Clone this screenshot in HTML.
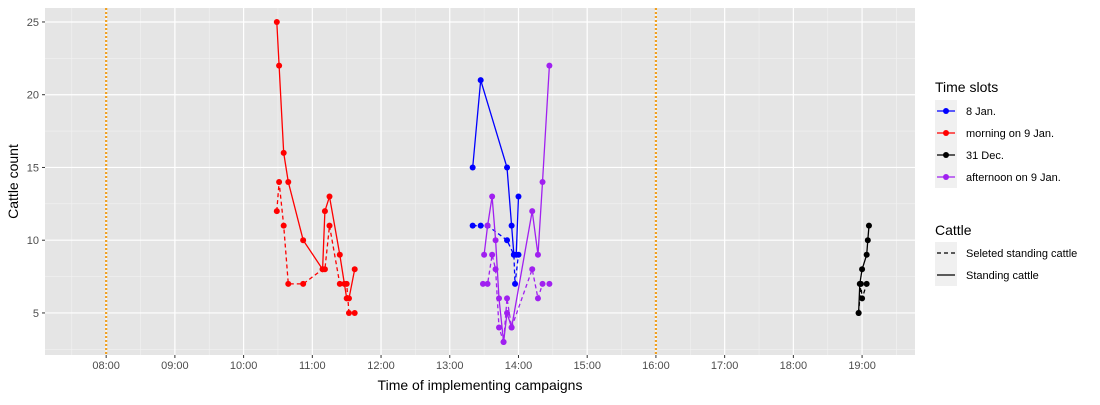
<!DOCTYPE html>
<html><head><meta charset="utf-8"><style>
body{margin:0;background:#fff;font-family:"Liberation Sans",Arial,sans-serif}
svg text{font-family:"Liberation Sans",Arial,sans-serif}
</style></head><body>
<svg id="chart" width="1100" height="400" xmlns="http://www.w3.org/2000/svg"></svg>
<script>
const xTicks=["08:00","09:00","10:00","11:00","12:00","13:00","14:00","15:00","16:00","17:00","18:00","19:00"];
const yTicks=[5,10,15,20,25];
const refLines=["08:00","16:00"];
const redSolidT=["10:29","10:31","10:35","10:39","10:52","11:09","11:11","11:15","11:24","11:28","11:30","11:32","11:37"];
const redSolidV=[25,22,16,14,10,8,12,13,9,7,6,6,8];
const redDashT=["10:29","10:31","10:35","10:39","10:52","11:09","11:11","11:15","11:24","11:30","11:32","11:37"];
const redDashV=[12,14,11,7,7,8,8,11,7,7,5,5];
const blueSolidT=["13:20","13:27","13:50","13:54","13:56","13:58","14:00"];
const blueSolidV=[15,21,15,11,9,9,13];
const blueDashT=["13:20","13:27","13:33","13:50","13:56","13:57","14:00"];
const blueDashV=[11,11,11,10,9,7,9];
const purpSolidT=["13:30","13:33","13:37","13:40","13:43","13:47","13:50","13:54","14:12","14:17","14:21","14:27"];
const purpSolidV=[9,11,13,10,6,3,5,4,12,9,14,22];
const purpDashT=["13:29","13:33","13:37","13:40","13:43","13:47","13:50","13:54","14:12","14:17","14:21","14:27"];
const purpDashV=[7,7,9,8,4,3,6,4,8,6,7,7];
const blackSolidT=["18:57","18:58","19:00","19:04","19:05","19:06"];
const blackSolidV=[5,7,8,9,10,11];
const blackDashT=["18:57","18:59","19:00","19:04"];
const blackDashV=[5,7,6,7];

const NS="http://www.w3.org/2000/svg";
const svg=document.getElementById('chart');
const L=45,R=915,T=8,B=355;
const x0=7.11,x1=19.77,y0=2.11,y1=25.96;
function hrs(s){const p=s.split(':');return +p[0]+(+p[1])/60;}
function X(h){return L+(h-x0)/(x1-x0)*(R-L);}
function Y(v){return B-(v-y0)/(y1-y0)*(B-T);}
function el(tag,a,parent){const e=document.createElementNS(NS,tag);for(const k in a)e.setAttribute(k,a[k]);(parent||svg).appendChild(e);return e;}
const bg=el('rect',{x:L,y:T,width:R-L,height:B-T,fill:'#e5e5e5'});


// minor grid
for(let h=7.5;h<x1;h+=1){const l=el('line',{x1:X(h),x2:X(h),y1:T,y2:B,stroke:'#f2f2f2','stroke-width':0.6});}
for(let v=2.5;v<y1;v+=5){const l=el('line',{x1:L,x2:R,y1:Y(v),y2:Y(v),stroke:'#f2f2f2','stroke-width':0.6});}
xTicks.forEach(t=>{const x=X(hrs(t));
const g=el('line',{x1:x,x2:x,y1:T,y2:B,stroke:'#fff','stroke-width':1.2});
const k=el('line',{x1:x,x2:x,y1:B,y2:B+3,stroke:'#333'});
const tx=el('text',{x:x,y:B+14,'font-size':11,fill:'#4d4d4d','text-anchor':'middle'});tx.textContent=t;});
yTicks.forEach(v=>{const y=Y(v);
const g=el('line',{x1:L,x2:R,y1:y,y2:y,stroke:'#fff','stroke-width':1.2});
const k=el('line',{x1:L-3,x2:L,y1:y,y2:y,stroke:'#333'});
const tx=el('text',{x:L-6,y:y+4,'font-size':11,fill:'#4d4d4d','text-anchor':'end'});tx.textContent=v;});
refLines.forEach(t=>{const x=X(hrs(t));const l=el('line',{x1:x,x2:x,y1:T,y2:B,stroke:'#f0a020','stroke-width':2.2,'stroke-dasharray':'2,2'});});
function series(ts,vs,color,dash,name){
const pts=ts.map((t,i)=>X(hrs(t)).toFixed(1)+','+Y(vs[i]).toFixed(1)).join(' ');
const pl=el('polyline',{points:pts,fill:'none',stroke:color,'stroke-width':1.3,'stroke-dasharray':dash?'4,3':'none'});


ts.forEach((t,i)=>{const c=el('circle',{cx:X(hrs(t)),cy:Y(vs[i]),r:3,fill:color});

});}
series(redDashT,redDashV,'#ff0000',true,'morning-9jan-selected');
series(redSolidT,redSolidV,'#ff0000',false,'morning-9jan-standing');
series(blueDashT,blueDashV,'#0000ff',true,'8jan-selected');
series(blueSolidT,blueSolidV,'#0000ff',false,'8jan-standing');
series(purpDashT,purpDashV,'#a020f0',true,'afternoon-9jan-selected');
series(purpSolidT,purpSolidV,'#a020f0',false,'afternoon-9jan-standing');
series(blackDashT,blackDashV,'#000',true,'31dec-selected');
series(blackSolidT,blackSolidV,'#000',false,'31dec-standing');
// axis titles
let t=el('text',{x:(L+R)/2,y:390,'font-size':14,fill:'#000','text-anchor':'middle'});t.textContent='Time of implementing campaigns';
t=el('text',{x:18,y:(T+B)/2,'font-size':14,fill:'#000','text-anchor':'middle',transform:`rotate(-90 18 ${(T+B)/2})`});t.textContent='Cattle count';
// legends
t=el('text',{x:935,y:92,'font-size':14,fill:'#000'});t.textContent='Time slots';
const legs=[["8 Jan.","#0000ff"],["morning on 9 Jan.","#ff0000"],["31 Dec.","#000"],["afternoon on 9 Jan.","#a020f0"]];
legs.forEach((d,i)=>{const y=100+i*22;
const r=el('rect',{x:935,y:y,width:22,height:22,fill:'#f0f0f0'});
const l=el('line',{x1:937,x2:955,y1:y+11,y2:y+11,stroke:d[1],'stroke-width':1.3});
const c=el('circle',{cx:946,cy:y+11,r:3,fill:d[1]});
const tx=el('text',{x:966,y:y+15,'font-size':11,fill:'#000'});tx.textContent=d[0];});
t=el('text',{x:935,y:235,'font-size':14,fill:'#000'});t.textContent='Cattle';
[["Seleted standing cattle",true],["Standing cattle",false]].forEach((d,i)=>{const y=242+i*22;
const r=el('rect',{x:935,y:y,width:22,height:22,fill:'#f0f0f0'});
const l=el('line',{x1:937,x2:955,y1:y+11,y2:y+11,stroke:'#000','stroke-width':1.3,'stroke-dasharray':d[1]?'4,3':'none'});
const tx=el('text',{x:966,y:y+15,'font-size':11,fill:'#000'});tx.textContent=d[0];});
</script>
</body></html>
